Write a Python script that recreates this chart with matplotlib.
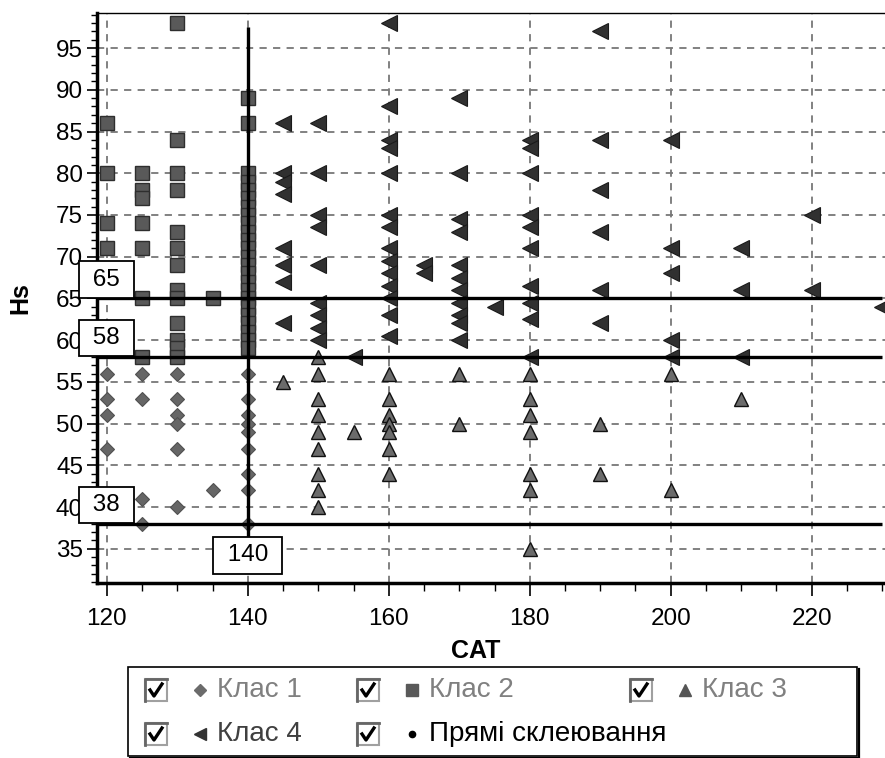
import matplotlib.pyplot as plt
from matplotlib.lines import Line2D
from matplotlib.patches import Rectangle

plt.rcParams['font.family'] = ['Liberation Sans', 'DejaVu Sans']

W, H = 885, 758  # output size in pixels

# Клас 1 (diamonds)
class1_x = [120, 120, 120, 120, 125, 125, 125, 125, 130, 130, 130, 130, 130, 130,
            135, 140, 140, 140, 140, 140, 140, 140, 140, 140]
class1_y = [56, 53, 51, 47, 56, 53, 41, 38, 56, 53, 51, 50, 47, 40,
            42, 56, 53, 51, 50, 49, 47, 44, 42, 38]

# Клас 2 (squares)
class2_x = [120, 120, 120, 120,
            125, 125, 125, 125, 125, 125, 125,
            130, 130, 130, 130, 130, 130, 130, 130, 130, 130, 130, 130, 130,
            135,
            140, 140, 140, 140, 140, 140, 140, 140, 140, 140, 140, 140,
            140, 140, 140, 140, 140, 140, 140, 140, 140, 140, 140, 140]
class2_y = [86, 80, 74, 71,
            80, 78, 77, 74, 71, 65, 58,
            98, 84, 80, 78, 73, 71, 69, 66, 65, 62, 60, 59, 58,
            65,
            89, 86, 80, 79, 78, 77, 76, 75, 74, 73, 72, 71,
            70, 69, 68, 67, 66, 65, 64, 63, 62, 61, 60, 59]

# Клас 3 (up triangles)
class3_x = [145, 150, 150, 150, 150, 150, 150, 150, 150, 150, 155,
            160, 160, 160, 160, 160, 160, 160, 170, 170,
            180, 180, 180, 180, 180, 180, 180, 190, 190, 200, 200, 210]
class3_y = [55, 58, 56, 53, 51, 49, 47, 44, 42, 40, 49,
            56, 53, 51, 50, 49, 47, 44, 56, 50,
            56, 53, 51, 49, 44, 42, 35, 50, 44, 56, 42, 53]

# Клас 4 (left triangles)
class4_x = [145, 145, 145, 145, 145, 145, 145, 145,
            150, 150, 150, 150, 150, 150, 150, 150, 150,
            155,
            160, 160, 160, 160, 160, 160, 160, 160, 160, 160, 160, 160, 160, 160,
            165, 165,
            170, 170, 170, 170, 170, 170, 170, 170, 170, 170, 170,
            175,
            180, 180, 180, 180, 180, 180, 180, 180, 180, 180,
            190, 190, 190, 190, 190, 190,
            200, 200, 200, 200, 200,
            210, 210, 210,
            220, 220,
            230]
class4_y = [86, 80, 79, 77.5, 71, 69, 67, 62,
            86, 80, 75, 73.5, 69, 64.5, 63, 61.5, 60,
            58,
            98, 88, 84, 83, 80, 75, 73.5, 71, 69.5, 68, 66.5, 65, 63, 60.5,
            69, 68,
            89, 80, 74.5, 73, 69, 67.5, 66, 64.5, 63, 62, 60,
            64,
            84, 83, 80, 75, 73.5, 71, 66.5, 64.5, 62.5, 58,
            97, 84, 78, 73, 66, 62,
            84, 71, 68, 60, 58,
            71, 66, 58,
            75, 66,
            64]

# Прямі склеювання (cut lines)
cut_y = [65, 58, 38]
cut_x = 140

legend_labels = ['Клас 1', 'Клас 2', 'Клас 3', 'Клас 4', 'Прямі склеювання']

fig = plt.figure(figsize=(W / 100, H / 100), dpi=100)
ax = fig.add_axes([97 / W, 1 - 583 / H, (885 - 97) / W, (583 - 13) / H])
ax.set_xlim(118.6, 230.4)
ax.set_ylim(30.9, 99.2)

ax.set_xticks([120, 140, 160, 180, 200, 220])
ax.set_xticks(list(range(120, 231, 5)), minor=True)
ax.set_yticks(list(range(35, 100, 5)))
ax.set_yticks(list(range(31, 100)), minor=True)
ax.tick_params(which='major', direction='out', length=7, width=1.2, labelsize=17.5, pad=3)
ax.tick_params(axis='x', which='major', length=9, pad=9)
ax.tick_params(which='minor', direction='out', length=4, width=1.0)
ax.tick_params(axis='x', which='minor', length=6)

for side in ['left', 'bottom']:
    ax.spines[side].set_linewidth(2.5)
ax.spines['top'].set_linewidth(1.0)
ax.spines['right'].set_visible(False)

ax.grid(True, which='major', color='#777777', linestyle=(0, (4, 3.5)), linewidth=1.3)
ax.set_axisbelow(True)

ax.plot(class1_x, class1_y, 'D', ms=7.5, mfc='#666666', mec='#505050', mew=0.8, ls='none', zorder=3)
ax.plot(class2_x, class2_y, 's', ms=10, mfc='#595959', mec='#2e2e2e', mew=1.0, ls='none', zorder=3)
ax.plot(class3_x, class3_y, '^', ms=10.5, mfc='#6b6b6b', mec='#111111', mew=1.0, ls='none', zorder=3)
ax.plot(class4_x, class4_y, '<', ms=11.5, mfc='#303030', mec='#1a1a1a', mew=0.8, ls='none', zorder=3)

ax.hlines(cut_y, 118.6, 230, colors='black', linewidth=2.4, zorder=5)
ax.vlines(cut_x, 34, 97.5, colors='black', linewidth=2.4, zorder=5)

box = dict(boxstyle='square,pad=0.3', fc='white', ec='black', lw=1.3)
for v in cut_y:
    ax.annotate(f' {v} ', xy=(119.9, v), xytext=(0, 13.5), textcoords='offset points',
                ha='center', va='center', fontsize=17.5, bbox=box, zorder=6,
                annotation_clip=False)
ax.text(cut_x, 34.2, f' {cut_x} ', ha='center', va='center', fontsize=17.5, bbox=box, zorder=6)

ax.set_xlabel('CAT', fontsize=18, fontweight='bold')
ax.xaxis.set_label_coords(0.48, -0.098)
ax.set_ylabel('Hs', fontsize=18, fontweight='bold')
ax.yaxis.set_label_coords(-0.082, 0.5)


def fx(px):
    return px / W


def fy(py):
    return 1 - py / H


# legend frame
fig.add_artist(Rectangle((fx(128), fy(756)), (857 - 128) / W, (756 - 667) / H,
                         fc='white', ec='black', lw=1.2))
fig.add_artist(Line2D([fx(859), fx(859), fx(130)], [fy(669), fy(758), fy(758)],
                      color='black', lw=1.6))

entry_pos = [(145, 690), (357, 690), (630, 690), (145, 734), (357, 734)]
entry_marker = [('D', 6, '#6b6b6b'), ('s', 9, '#595959'), ('^', 9, '#555555'),
                ('<', 9, '#333333'), ('o', 4.5, 'black')]
entry_color = ['#808080', '#808080', '#808080', '#404040', 'black']

for (x0, yc), (mk, ms, mc), tc, lab in zip(entry_pos, entry_marker, entry_color, legend_labels):
    fig.add_artist(Rectangle((fx(x0), fy(yc + 11)), 22 / W, 22 / H, fc='white', ec='#a0a0a0', lw=1.5))
    fig.add_artist(Line2D([fx(x0), fx(x0), fx(x0 + 22)], [fy(yc + 11), fy(yc - 11), fy(yc - 11)],
                          color='#666666', lw=2.0))
    fig.add_artist(Line2D([fx(x0 + 5), fx(x0 + 9), fx(x0 + 17)], [fy(yc), fy(yc + 6), fy(yc - 6)],
                          color='black', lw=2.4))
    fig.add_artist(Line2D([fx(x0 + 55)], [fy(yc)], marker=mk, ms=ms, mfc=mc, mec=mc, ls='none'))
    fig.text(fx(x0 + 72), fy(yc), lab, fontsize=20, color=tc, ha='left', va='center')

fig.savefig('out.png', dpi=100)
